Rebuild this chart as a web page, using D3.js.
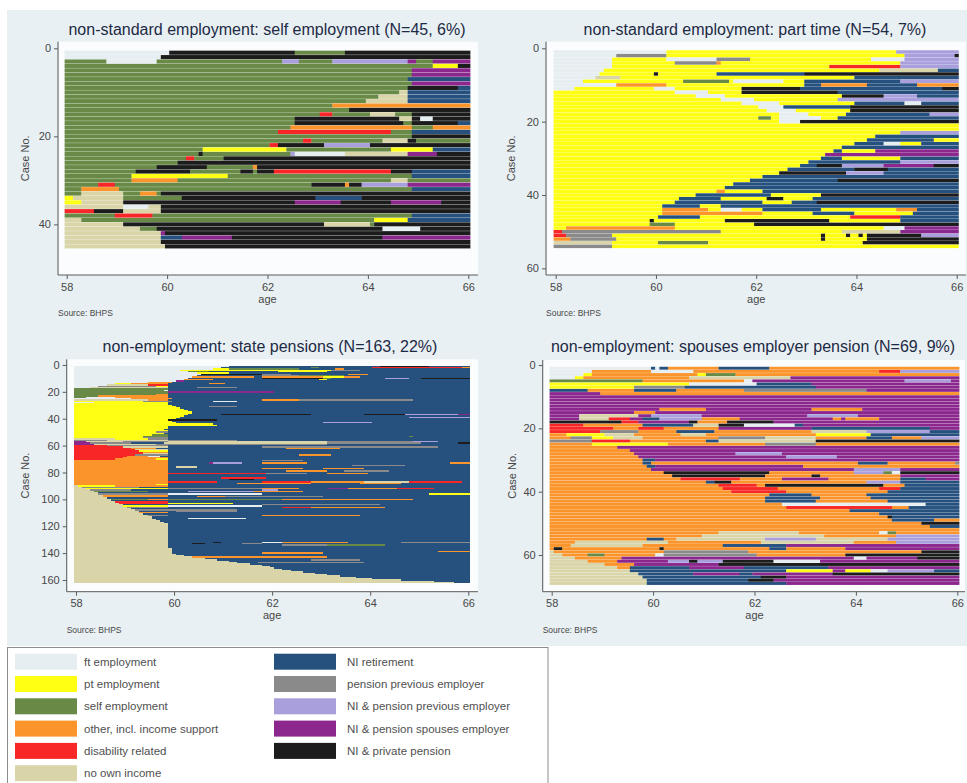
<!DOCTYPE html>
<html>
<head>
<meta charset="utf-8">
<script src="https://cdn.jsdelivr.net/npm/d3@7"></script>
<style>
  body { margin: 0; background: #ffffff; }
  text { font-family: "Liberation Sans", Arial, Helvetica, sans-serif; }
</style>
</head>
<body>
<svg id="chart" width="967" height="783"></svg>
<script>
// ---- states (sequence alphabet) ----
const stateCodes  = ["F", "P", "S", "O", "D", "N", "R", "G", "L", "M", "B"];
const stateLabels = [
  "ft employment", "pt employment", "self employment", "other, incl. income support",
  "disability related", "no own income", "NI retirement", "pension previous employer",
  "NI & pension previous employer", "NI & pension spouses employer", "NI & private pension"
];
const stateColors = [
  "#e6eef1", "#ffff14", "#688a46", "#fb942a", "#f82626", "#d9d5a8",
  "#26517e", "#8a8a8a", "#a89fdc", "#8c278e", "#1c1c1c"
];

// ---- axis ticks ----
const ageTicks = [58, 60, 62, 64, 66];
const caseTicksSelf = [0, 20, 40];
const caseTicksPart = [0, 20, 40, 60];
const caseTicksState = [0, 20, 40, 60, 80, 100, 120, 140, 160];
const caseTicksSpouse = [0, 20, 40, 60];

const panelTitles = [
  "non-standard employment: self employment (N=45, 6%)",
  "non-standard employment: part time (N=54, 7%)",
  "non-employment: state pensions (N=163, 22%)",
  "non-employment: spouses employer pension (N=69, 9%)"
];

// ---- sequences: one string per case, "<state><end month>" runs, months 0..97 from age 58 ----
const seqSelfEmployment = [
  "F25 B55 S67 B97", "F23 B97", "S10 F22 S52 L56 S64 L82 M84 S88 M97", "S88 P94 B97",
  "S83 M97", "S83 M97", "S82 R97", "S83 M97", "S82 B94 R97", "S80 N82 R97",
  "S75 N82 R97", "S72 N82 R97", "S64 O97", "S68 B97", "S61 D64 S73 N79 S83 B97",
  "S55 B80 N83 B85 F88 B97", "S55 B81 S83 B94 R97", "S54 O83 S88 O97", "S51 D78 S83 R97", "S83 B97",
  "S57 D59 S76 N82 B84 S97", "S49 D51 B62 L73 B97", "S33 P53 S78 P88 R97", "S32 B33 S54 L55 F67 N82 M89 B97", "S29 D31 S38 B97",
  "S27 B97", "S22 B34 S45 O46 B97", "S17 B30 S42 B45 S46 B50 D78 B83 R97", "S16 P39 S83 R97", "S16 O27 S78 N82 S97",
  "S8 D12 S59 B67 O68 B71 L82 M97", "S4 O13 S83 R97", "S4 N14 S18 O22 S23 B97", "P2 N14 S28 B60 R71 B97", "P4 N14 B55 M66 B78 M90 B97",
  "N14 F20 N23 B97", "D7 B14 N23 B97", "S12 D21 S83 R97", "N4 S74 P82 R97", "N14 B62 N73 S74 B97",
  "N18 S22 B76 F85 B97", "N23 M24 B97", "N23 R28 M40 B76 M97", "N23 B97", "N24 B97"
];

const seqPartTime = [
  "F27 P82 L97", "F15 G27 P84 L96 B97", "F14 P27 F39 G47 P76 F84 L97", "F14 P29 G39 O40 P83 L97", "F14 P66 D83 L97",
  "F12 P78 N92 R97", "F11 P24 B25 P39 R60 B97", "F10 N16 P72 R97", "F7 P31 S42 P43 F55 P60 R83 L97", "F15 O27 P60 R64 O75 R87 O97",
  "F5 P24 F29 P45 B59 R93 B97", "P29 F37 P45 B68 R97", "P34 F41 P69 B79 L87 R97", "P40 F48 P68 L97", "P45 F54 P72 R84 F88 R97",
  "P49 F55 R71 B97", "P51 F58 P71 B97", "P54 F61 P70 R90 L97", "P49 S52 P54 F64 P68 R97", "P54 F59 B97",
  "P97", "P97", "P83 L97", "P77 R97", "P75 R91 P97",
  "P72 R79 F83 P88 R97", "P69 R97", "P67 R69 P77 M97", "P65 M97", "P64 R69 P83 R97",
  "P61 R83 L97", "P59 R63 B69 L79 M91 B97", "P56 R72 B80 R97", "P54 B70 L79 R97", "P50 R97",
  "P47 R68 B97", "P43 R97", "P41 R97", "P39 O41 P50 R97", "P34 R52 P64 B97",
  "P30 R40 P51 B55 P62 R97", "P29 R50 P57 R63 B97", "P26 R35 P40 R97", "P26 O37 P40 F45 P50 R64 P82 O87 R97", "P26 O50 P62 R72 P86 R97",
  "P25 R35 P71 D83 R97", "P23 B24 P41 B66 P83 R97", "P23 S29 P48 B97", "P3 O29 P79 F84 M97", "D2 G40 P69 N83 M97",
  "D3 G14 P64 B65 P70 B71 P73 B74 P75 B88 L97", "O4 G15 P64 B65 P75 B97", "N14 P25 S37 P74 B97", "G14 P97"
];

const seqStatePension = [
  "F38 R75 B87 R97", "F36 R58 S60 R73 D95 O97", "F34 P38 S55 R64 O66 R97", "F26 P63 G70 R97", "F28 S33 R50 P62 R97",
  "F30 P38 R97", "F31 B46 G53 R67 O72 R97", "F30 R46 G55 S66 R97", "F29 O44 R46 O61 P66 O70 R97", "F28 R46 B61 S63 R76 L82 R85 B97",
  "F27 O34 R60 P62 R97", "F25 M27 R97", "F18 O24 R97", "F10 P14 O23 R33 O37 R97", "F8 N18 D23 R97",
  "F6 G20 P23 R97", "F4 N23 R30 G40 R97", "S23 R97", "S22 F23 R97", "S23 M49 R97",
  "S23 R97", "S20 O23 R97", "S6 O23 R97", "S3 F10 O23 R97", "F14 O24 R97",
  "N18 O23 R46 O55 G83 R97", "P17 G24 R34 F40 R97", "F5 P23 R97", "P23 R97", "P24 R97",
  "P25 R33 G40 R97", "P26 R97", "P27 R97", "P28 R97", "P29 R97",
  "P29 R97", "P28 R36 B58 R71 B81 L94 M97", "P27 R97", "P26 R82 L97", "P25 R97",
  "P23 B35 R97", "P24 R97", "P25 R61 L73 R97", "P34 R97", "P35 R97",
  "P23 R97", "P23 R97", "P22 R97", "P23 R97", "P20 G23 R97",
  "P22 R97", "P19 S23 R97", "P17 S23 R82 S83 R97", "P17 G23 R97", "N10 P18 G23 R97",
  "G8 N23 G40 R97", "M3 N12 G23 N62 G83 L89 R97", "M4 G14 R22 N62 G85 R94 B97", "M5 N20 G62 R97", "D8 G23 R97",
  "D12 N23 R46 G89 R97", "D14 O20 R52 O65 R97", "D15 N23 R97", "D16 P23 R97", "D17 O23 R97",
  "D17 N23 R97", "D15 G23 R55 O63 R97", "D13 O18 F21 R97", "D12 O23 R97", "D10 O20 P23 R97",
  "O23 R46 G56 R97", "O23 R97", "O23 R33 M34 L41 R46 O57 R92 O97", "O23 R97", "O23 R68 G81 R97",
  "O23 R25 N30 R97", "O23 R46 O56 R61 O71 R97", "O23 R97", "O23 R52 O62 R66 G77 R97", "O23 R97",
  "O23 D47 G57 R62 O72 R97", "O23 R97", "O23 R97", "O23 R36 D47 R97", "O23 R38 B44 R97",
  "O23 R97", "O23 D35 R46 D58 O71 N82 D95 R97", "O23 R40 O58 R70 O80 R97", "O20 P23 R97", "N1 P10 O23 R97",
  "N2 G16 R97", "N3 P23 G46 O55 R62 M67 O79 D88 R97", "N4 G14 R46 L50 R97", "N5 S18 R28 L44 O56 R97", "N6 R97",
  "N6 G23 F46 R87 P97", "N7 O23 R97", "N7 O23 R30 O37 G61 R97", "N8 R97", "N9 S18 O23 S51 O83 R97",
  "N9 R97", "N10 D23 R97", "N11 D23 P39 R97", "N12 R46 G75 R97", "N12 P23 F46 R97",
  "N13 G23 R51 D58 O76 R97", "N14 R97", "N15 G40 R97", "N16 R25 G40 R97", "N16 O23 R97",
  "N17 R97", "N18 G23 R46 O70 R97", "N19 R97", "N19 R28 F42 R97", "N20 R97",
  "N21 R97", "N22 R97", "N23 R97", "N23 R97", "N23 R97",
  "N23 R97", "N23 R97", "N23 R97", "N23 R97", "N23 R97",
  "N23 R97", "N23 R97", "N23 R97", "N23 R97", "N23 R97",
  "N23 R97", "N23 R34 B36 R46 F51 O67 R80 G97", "N23 R29 B32 R41 G46 R97", "N23 R51 G62 S76 R97", "N23 R97",
  "N23 R97", "N24 R97", "N24 R97", "N24 R89 O97", "N24 R46 O61 R97",
  "N25 R97", "N27 R97", "N29 O62 R97", "N32 R97", "N35 R58 G70 R97",
  "N38 R97", "N40 R45 G71 R97", "N43 R97", "N46 R97", "N48 R97",
  "N49 R97", "N51 R97", "N53 R97", "N56 R97", "N59 R97",
  "N62 R97", "N65 R97", "N69 R97", "N73 R97", "N80 R97",
  "N88 R97", "N93 R97"
];

const seqSpousePension = [
  "F24 R25 F26 R28 O40 R52 O97", "F10 O24 F34 O78 D83 L97", "F8 P10 O35 P37 S44 O97", "F6 P8 O33 N57 M97", "S22 O46 F48 M84 L95 M97",
  "P33 F49 R62 M97", "P20 G32 R63 M97", "R9 O20 R30 O46 G75 M97", "M12 O97", "M97",
  "M97", "M97", "M97", "M26 O37 M62 O74 M97", "M20 O25 M97",
  "M7 N21 M24 L36 M61 L73 M97", "M7 N14 D19 M22 R26 L36 O45 M67 O69 M70 O78 M97", "B17 D21 M33 B35 O42 B53 M97", "D8 O22 R34 N40 B46 F58 R60 M97", "D15 O21 D27 O40 M62 R90 M97",
  "D12 G21 O30 R39 O62 N75 L90 R97", "O4 P13 N20 O31 N37 O63 P76 R97", "O5 G10 P15 N22 O40 G51 N63 O75 R81 O88 L97", "G10 D19 O37 R40 N63 B97", "O10 P28 O51 G63 O97",
  "O16 M97", "O19 M97", "O20 M44 L55 M97", "O21 M56 L68 M97", "O22 R25 M97",
  "O22 R24 O73 R80 O96 G97", "O23 R25 M60 O97", "O24 M72 L83 M97", "O27 B52 O72 L79 S81 F83 B97", "O29 B51 O62 B64 O83 M97",
  "O31 D45 O55 M66 O83 R89 M97", "O37 R39 B43 O75 L83 R97", "O40 D49 O51 B79 O84 R97", "O41 D54 O78 D83 R97", "O43 D56 O80 R97",
  "O52 R62 O75 R97", "O51 R64 O76 R97", "O51 R63 O80 R97", "O55 F89 R97", "O56 D81 O85 R97",
  "O71 R97", "O78 R97", "O80 B81 R97", "O81 R91 O97", "O88 B97",
  "O90 R97", "O97", "O40 N59 O78 F80 S82 O97", "O36 N65 O82 L97", "O23 R27 O30 N51 L63 N80 L97",
  "O6 N28 O50 N72 O82 L97", "O5 N22 O41 R56 M97", "O1 B3 O26 B27 O52 R56 O70 M97", "N1 O27 G47 O88 B97", "N3 O9 S13 O25 F27 G49 O70 B97",
  "N6 O17 M72 F75 M87 B97", "N9 O16 M28 L33 B35 L41 B53 F64 M97", "N13 O20 M40 B97", "N16 O19 R33 M46 R66 M97", "N19 R56 P67 M70 P76 F80 L91 R97",
  "N21 R34 M45 R48 M67 B97", "N22 R50 B56 M97", "N23 R47 B53 M97", "N23 R56 M97"
];

// ---- layout of the four graphs ----
const panels = [
  { title: panelTitles[0], seq: seqSelfEmployment, ticks: caseTicksSelf,
    x58: 66.7, x66: 468.3, left: 59, right: 478, top: 41.7, bottom: 275,
    yAxisX: 58, yDom: [-1.5, 51.5], titleX: 267, titleY: 35, yLabX: 25, gap: 0.3, crisp: false },
  { title: panelTitles[1], seq: seqPartTime, ticks: caseTicksPart,
    x58: 555.7, x66: 956.7, left: 547, right: 966, top: 41.7, bottom: 275,
    yAxisX: 546, yDom: [-1.8, 61.8], titleX: 755, titleY: 35, yLabX: 511, gap: 0.25, crisp: false },
  { title: panelTitles[2], seq: seqStatePension, ticks: caseTicksState,
    x58: 76, x66: 468.3, left: 67.5, right: 478, top: 359.3, bottom: 591.7,
    yAxisX: 66.7, yDom: [-4.2, 168.7], titleX: 270, titleY: 352, yLabX: 25, gap: 0, crisp: true },
  { title: panelTitles[3], seq: seqSpousePension, ticks: caseTicksSpouse,
    x58: 551.7, x66: 957.3, left: 543.5, right: 965, top: 360, bottom: 591.7,
    yAxisX: 542.7, yDom: [-1.6, 71.6], titleX: 753, titleY: 352, yLabX: 512, gap: 0.25, crisp: false }
];

const colorOf = d3.scaleOrdinal().domain(stateCodes).range(stateColors);

function parseSeq(str) {
  let start = 0;
  return str.split(" ").map(tok => {
    const run = { state: tok[0], start: start, end: +tok.slice(1) };
    start = run.end;
    return run;
  });
}

const svg = d3.select("#chart");

// graph-region background
svg.append("rect").attr("x", 0).attr("y", 0).attr("width", 967).attr("height", 783).attr("fill", "#ffffff");
svg.append("rect").attr("x", 7).attr("y", 10).attr("width", 960).attr("height", 636).attr("fill", "#e9f0f3");

panels.forEach(p => {
  const g = svg.append("g");
  const x = d3.scaleLinear().domain([58, 66]).range([p.x58, p.x66]);
  const y = d3.scaleLinear().domain(p.yDom).range([p.top, p.bottom]);

  // plot region
  g.append("rect")
    .attr("x", p.left).attr("y", p.top)
    .attr("width", p.right - p.left).attr("height", p.bottom - p.top)
    .attr("fill", "#fafcfd");

  // sequence index rows
  const rows = p.seq.map((s, i) => ({ caseNo: i + 1, runs: parseSeq(s) }));
  const rowG = g.append("g")
    .attr("shape-rendering", p.crisp ? "crispEdges" : "auto")
    .selectAll("g").data(rows).join("g");
  rowG.selectAll("rect")
    .data(d => d.runs.map(r => Object.assign({ caseNo: d.caseNo }, r)))
    .join("rect")
    .attr("x", d => x(58 + (d.start - 0.5) / 12))
    .attr("width", d => x(58 + (d.end - 0.5) / 12) - x(58 + (d.start - 0.5) / 12) + (d.end < 97 && !p.crisp ? 0.3 : 0))
    .attr("y", d => y(d.caseNo - 0.5) + p.gap / 2)
    .attr("height", d => y(d.caseNo + 0.5) - y(d.caseNo - 0.5) - p.gap)
    .attr("fill", d => colorOf(d.state));

  // axes
  const yAxis = d3.axisLeft(y).tickValues(p.ticks).tickSize(4).tickPadding(3).tickSizeOuter(0);
  const ya = g.append("g").attr("transform", `translate(${p.yAxisX},0)`).call(yAxis);
  const xAxis = d3.axisBottom(x).tickValues(ageTicks).tickSize(4).tickPadding(4).tickSizeOuter(0);
  const xa = g.append("g").attr("transform", `translate(0,${p.bottom})`).call(xAxis);
  [ya, xa].forEach(a => {
    a.select(".domain").remove();
    a.selectAll(".tick line").attr("stroke", "#5a5a5a");
    a.selectAll(".tick text").attr("fill", "#474747").style("font-size", "11px")
      .style("font-family", '"Liberation Sans", Arial, sans-serif');
  });
  g.append("line").attr("x1", p.yAxisX).attr("x2", p.yAxisX)
    .attr("y1", p.top).attr("y2", p.bottom).attr("stroke", "#5a5a5a").attr("stroke-width", 1);
  g.append("line").attr("x1", p.yAxisX).attr("x2", p.right)
    .attr("y1", p.bottom).attr("y2", p.bottom).attr("stroke", "#5a5a5a").attr("stroke-width", 1);

  // titles and captions
  g.append("text").attr("x", p.titleX).attr("y", p.titleY)
    .attr("text-anchor", "middle").attr("fill", "#1d2a45").style("font-size", "16px")
    .text(p.title);
  g.append("text").attr("x", (p.x58 + p.x66) / 2).attr("y", p.bottom + 27.5)
    .attr("text-anchor", "middle").attr("fill", "#474747").style("font-size", "11px")
    .text("age");
  g.append("text")
    .attr("transform", `translate(${p.yLabX},${(p.top + p.bottom) / 2}) rotate(-90)`)
    .attr("text-anchor", "middle").attr("dy", "0.35em")
    .attr("fill", "#474747").style("font-size", "11px")
    .text("Case No.");
  g.append("text").attr("x", p.yAxisX).attr("y", p.bottom + 41)
    .attr("fill", "#474747").style("font-size", "8.5px")
    .text("Source: BHPS");
});

// ---- legend ----
const lg = svg.append("g");
lg.append("rect").attr("x", 7.5).attr("y", 647.5).attr("width", 540.5).attr("height", 150)
  .attr("fill", "#ffffff").attr("stroke", "#8c8c8c");
const legendItems = stateCodes.map((c, i) => ({
  code: c, label: stateLabels[i],
  col: i < 6 ? 0 : 1, row: i < 6 ? i : i - 6
}));
const colSwatchX = [15, 274];
const colLabelX = [84, 347];
const item = lg.selectAll("g.item").data(legendItems).join("g").attr("class", "item");
item.append("rect")
  .attr("x", d => colSwatchX[d.col])
  .attr("y", d => 661.7 + 22.3 * d.row - 8)
  .attr("width", 62).attr("height", 16)
  .attr("fill", d => colorOf(d.code));
item.append("text")
  .attr("x", d => colLabelX[d.col])
  .attr("y", d => 661.7 + 22.3 * d.row)
  .attr("dy", "0.35em")
  .attr("fill", "#505050").style("font-size", "11.5px")
  .text(d => d.label);
</script>
</body>
</html>
